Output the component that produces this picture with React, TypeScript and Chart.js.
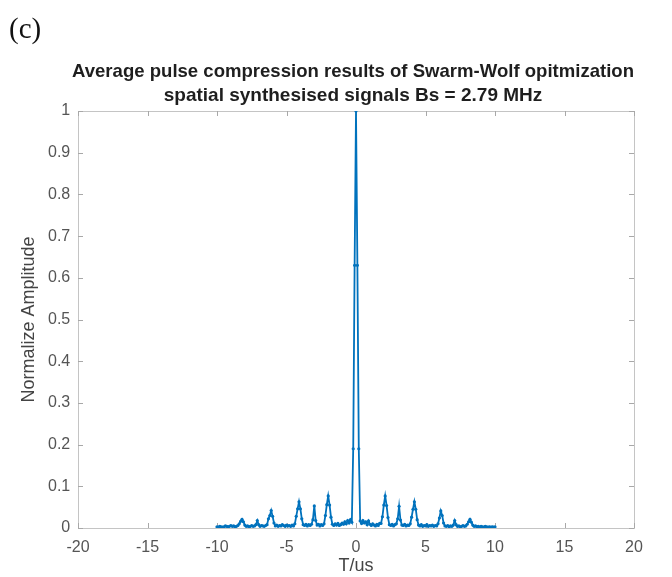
import React, { useEffect, useRef } from "react";
import { Chart, registerables } from "chart.js";

Chart.register(...registerables);

const TITLE_LINES = [
  "Average pulse compression results of Swarm-Wolf opitmization",
  "spatial synthesised signals Bs = 2.79 MHz",
];
const PANEL_LABEL = "(c)";
const X_LABEL = "T/us";
const Y_LABEL = "Normalize Amplitude";

const X_MIN = -20;
const X_MAX = 20;
const X_STEP = 5;
const Y_MIN = 0;
const Y_MAX = 1;
const Y_STEP = 0.1;

// time axis (us)
const T = [
  -10, -9.9, -9.8, -9.7, -9.6, -9.5, -9.4, -9.3, -9.2, -9.1,
  -9, -8.9, -8.8, -8.7, -8.6, -8.5, -8.4, -8.3, -8.2, -8.1,
  -8, -7.9, -7.8, -7.7, -7.6, -7.5, -7.4, -7.3, -7.2, -7.1,
  -7, -6.9, -6.8, -6.7, -6.6, -6.5, -6.4, -6.3, -6.2, -6.1,
  -6, -5.9, -5.8, -5.7, -5.6, -5.5, -5.4, -5.3, -5.2, -5.1,
  -5, -4.9, -4.8, -4.7, -4.6, -4.5, -4.4, -4.3, -4.2, -4.1,
  -4, -3.9, -3.8, -3.7, -3.6, -3.5, -3.4, -3.3, -3.2, -3.1,
  -3, -2.9, -2.8, -2.7, -2.6, -2.5, -2.4, -2.3, -2.2, -2.1,
  -2, -1.9, -1.8, -1.7, -1.6, -1.5, -1.4, -1.3, -1.2, -1.1,
  -1, -0.9, -0.8, -0.7, -0.6, -0.5, -0.4, -0.3, -0.2, -0.1,
  0,
  0.1, 0.2, 0.3, 0.4, 0.5, 0.6, 0.7, 0.8, 0.9, 1,
  1.1, 1.2, 1.3, 1.4, 1.5, 1.6, 1.7, 1.8, 1.9, 2,
  2.1, 2.2, 2.3, 2.4, 2.5, 2.6, 2.7, 2.8, 2.9, 3,
  3.1, 3.2, 3.3, 3.4, 3.5, 3.6, 3.7, 3.8, 3.9, 4,
  4.1, 4.2, 4.3, 4.4, 4.5, 4.6, 4.7, 4.8, 4.9, 5,
  5.1, 5.2, 5.3, 5.4, 5.5, 5.6, 5.7, 5.8, 5.9, 6,
  6.1, 6.2, 6.3, 6.4, 6.5, 6.6, 6.7, 6.8, 6.9, 7,
  7.1, 7.2, 7.3, 7.4, 7.5, 7.6, 7.7, 7.8, 7.9, 8,
  8.1, 8.2, 8.3, 8.4, 8.5, 8.6, 8.7, 8.8, 8.9, 9,
  9.1, 9.2, 9.3, 9.4, 9.5, 9.6, 9.7, 9.8, 9.9, 10,
];

// normalized amplitude
const AMPLITUDE = [
  0.003, 0.002, 0.004, 0.003, 0.002, 0.003, 0.005, 0.004, 0.003, 0.004,
  0.006, 0.004, 0.005, 0.003, 0.004, 0.006, 0.01, 0.016, 0.021, 0.015,
  0.007, 0.004, 0.005, 0.003, 0.004, 0.006, 0.004, 0.005, 0.008, 0.018,
  0.008, 0.004, 0.006, 0.005, 0.004, 0.006, 0.008, 0.022, 0.03, 0.042,
  0.028, 0.012, 0.005, 0.007, 0.004, 0.006, 0.005, 0.008, 0.006, 0.004,
  0.007, 0.005, 0.006, 0.004, 0.007, 0.005, 0.01, 0.028, 0.046, 0.063,
  0.046, 0.022, 0.008, 0.006, 0.009, 0.005, 0.008, 0.006, 0.009, 0.02,
  0.053, 0.018, 0.007, 0.009, 0.005, 0.008, 0.006, 0.01, 0.03, 0.056,
  0.077, 0.055, 0.026, 0.009, 0.006, 0.01, 0.007, 0.011, 0.006, 0.008,
  0.012, 0.009, 0.015, 0.01, 0.018, 0.012, 0.02, 0.014, 0.19, 0.63,
  1.0,
  0.63, 0.19, 0.017, 0.011, 0.018, 0.012, 0.015, 0.008, 0.017, 0.009,
  0.006, 0.01, 0.007, 0.005, 0.009, 0.006, 0.011, 0.011, 0.027, 0.055,
  0.077, 0.054, 0.025, 0.008, 0.006, 0.009, 0.005, 0.008, 0.01, 0.022,
  0.052, 0.019, 0.007, 0.006, 0.009, 0.005, 0.007, 0.006, 0.01, 0.026,
  0.045, 0.063, 0.045, 0.02, 0.007, 0.005, 0.008, 0.004, 0.006, 0.005,
  0.008, 0.004, 0.006, 0.005, 0.007, 0.004, 0.006, 0.005, 0.01, 0.024,
  0.041, 0.03, 0.012, 0.005, 0.004, 0.006, 0.003, 0.005, 0.004, 0.007,
  0.018, 0.008, 0.004, 0.005, 0.003, 0.004, 0.006, 0.004, 0.005, 0.009,
  0.015, 0.021, 0.014, 0.007, 0.004, 0.005, 0.003, 0.004, 0.002, 0.004,
  0.003, 0.002, 0.004, 0.003, 0.002, 0.003, 0.002, 0.003, 0.002, 0.003,
];

const LINE_COLOR = "#0072BD";
const FRAME_COLOR = "#c4c4c4";
const TICK_COLOR = "#555555";
const FONT = "'Liberation Sans', Arial, sans-serif";

const framePlugin = {
  id: "matlabFrame",
  beforeDatasetsDraw(chart: any) {
    const { ctx, chartArea } = chart;
    const { left, right, top, bottom } = chartArea;
    const xs = chart.scales.x;
    const ys = chart.scales.y;
    ctx.save();
    ctx.strokeStyle = FRAME_COLOR;
    ctx.lineWidth = 1;
    ctx.strokeRect(Math.round(left) + 0.5, Math.round(top) + 0.5, Math.round(right - left), Math.round(bottom - top));
    const len = 5;
    ctx.strokeStyle = "#a8a8a8";
    ctx.beginPath();
    xs.ticks.forEach((t: any) => {
      const px = Math.round(xs.getPixelForValue(t.value)) + 0.5;
      ctx.moveTo(px, bottom);
      ctx.lineTo(px, bottom - len);
      ctx.moveTo(px, top);
      ctx.lineTo(px, top + len);
    });
    ys.ticks.forEach((t: any) => {
      const py = Math.round(ys.getPixelForValue(t.value)) + 0.5;
      ctx.moveTo(left, py);
      ctx.lineTo(left + len, py);
      ctx.moveTo(right, py);
      ctx.lineTo(right - len, py);
    });
    ctx.stroke();
    ctx.restore();
  },
};

export default function App() {
  const canvasRef = useRef<HTMLCanvasElement | null>(null);

  useEffect(() => {
    document.body.style.margin = "0";
    const canvas = canvasRef.current;
    if (!canvas) return;
    const points = T.map((t, i) => ({ x: t, y: AMPLITUDE[i] }));
    const chart = new Chart(canvas, {
      type: "line",
      data: {
        datasets: [
          {
            data: points,
            borderColor: LINE_COLOR,
            backgroundColor: LINE_COLOR,
            borderWidth: 1.8,
            pointRadius: 1.6,
            pointBorderWidth: 0,
            pointBackgroundColor: LINE_COLOR,
            tension: 0,
            fill: false,
          },
        ],
      },
      options: {
        animation: false,
        responsive: false,
        maintainAspectRatio: false,
        layout: { padding: { left: 72, right: 38, top: 0, bottom: 0 } },
        plugins: {
          legend: { display: false },
          tooltip: { enabled: false },
          title: {
            display: true,
            text: TITLE_LINES,
            color: "#1e1e1e",
            font: { family: FONT, size: 19, weight: "bold", lineHeight: 24 / 19 },
            padding: { top: 60, bottom: 3 },
          },
        },
        scales: {
          x: {
            type: "linear",
            min: X_MIN,
            max: X_MAX,
            afterFit: (s: any) => {
              s.height = 49;
            },
            ticks: {
              stepSize: X_STEP,
              color: TICK_COLOR,
              padding: 10,
              maxRotation: 0,
              font: { family: FONT, size: 16 },
            },
            grid: { display: false, drawTicks: false },
            border: { display: false },
            title: {
              display: true,
              text: X_LABEL,
              color: "#444444",
              font: { family: FONT, size: 18, lineHeight: 1.2 },
              padding: { top: 0, bottom: 0 },
            },
          },
          y: {
            type: "linear",
            min: Y_MIN,
            max: Y_MAX,
            afterFit: (s: any) => {
              s.width = 6;
            },
            ticks: {
              stepSize: Y_STEP,
              color: TICK_COLOR,
              mirror: true,
              crossAlign: "far",
              padding: -30,
              font: { family: FONT, size: 16 },
              callback: (v: any) => String(Math.round(Number(v) * 10) / 10),
            },
            grid: { display: false, drawTicks: false },
            border: { display: false },
            title: {
              display: true,
              text: Y_LABEL,
              color: "#444444",
              font: { family: FONT, size: 18, lineHeight: 1.2 },
              padding: { top: -54, bottom: 0 },
            },
          },
        },
      },
      plugins: [framePlugin],
    });
    return () => chart.destroy();
  }, []);

  return (
    <div style={{ position: "relative", width: 672, height: 577, background: "#fff" }}>
      <div
        style={{
          position: "absolute",
          left: 9,
          top: 14,
          fontFamily: "'Liberation Serif', 'DejaVu Serif', serif",
          fontSize: 29,
          lineHeight: 1,
          color: "#111",
        }}
      >
        {PANEL_LABEL}
      </div>
      <canvas ref={canvasRef} width={672} height={577} style={{ display: "block" }} />
    </div>
  );
}
